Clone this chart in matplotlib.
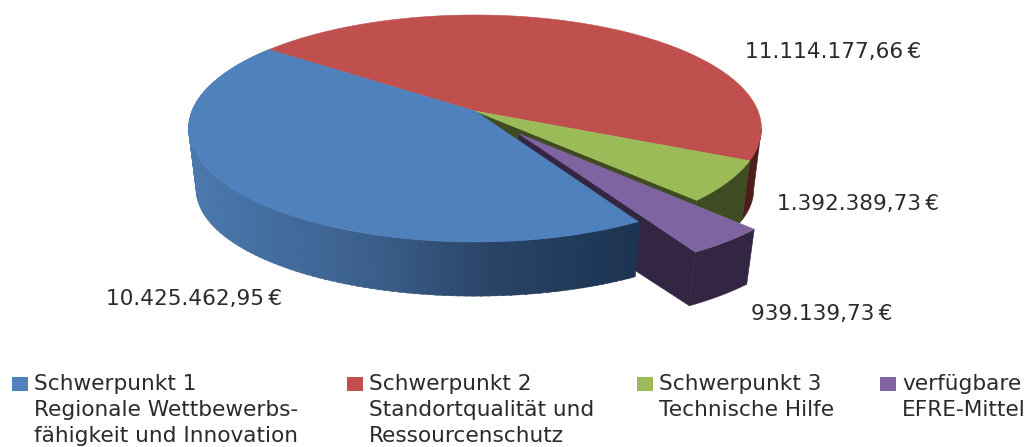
import numpy as np
import matplotlib
matplotlib.use("Agg")
import matplotlib.pyplot as plt
from matplotlib.colors import LinearSegmentedColormap
from matplotlib.patches import Polygon, Rectangle

# chart data, legend order
legend_labels = [
  "Schwerpunkt 1\nRegionale Wettbewerbs-\nfähigkeit und Innovation",
  "Schwerpunkt 2\nStandortqualität und\nRessourcenschutz",
  "Schwerpunkt 3\nTechnische Hilfe",
  "verfügbare\nEFRE-Mittel",
]
values = [10425462.95, 11114177.66, 1392389.73, 939139.73]
top_colors = ["#4f81bd", "#c0504d", "#9bbb59", "#8064a2"]
wall_colors = ["#1c3350", "#4d1e1c", "#3f4c22", "#332642"]

# where the pie sits in the picture (pixels)
start_angle = 300.0
vx, vy = 475.0, 111.0
rx, ry, persp = 283.0, 110.8, 0.154
bottom_dy = 62.0
bottom_sx, bottom_sy = 0.973, 0.94
explode = 0.25

fig = plt.figure(figsize=(10.3, 4.47), dpi=100)
ax = fig.add_axes([0, 0, 1, 1])
ax.set_xlim(0, 1030)
ax.set_ylim(447, 0)
ax.axis("off")

def project(px, py, bottom=False):
  d = 1 + persp * py
  x = rx * px / d
  y = -ry * py / d
  if bottom:
    return vx + x * bottom_sx, vy + bottom_dy + y * bottom_sy
  return vx + x, vy + y

def arc(a1, a2, off=(0, 0), bottom=False):
  t = np.radians(np.linspace(a1, a2, 120))
  return np.column_stack(project(np.cos(t) + off[0], np.sin(t) + off[1], bottom))

def top_poly(a1, a2, off, color, z):
  pts = np.vstack([[project(off[0], off[1])], arc(a1, a2, off)])
  ax.add_patch(Polygon(pts, closed=True, fc=color, ec=color, lw=0.4, zorder=z))

def radial_wall(angle, off, color, z):
  t = np.radians(angle)
  a = project(off[0], off[1])
  b = project(np.cos(t) + off[0], np.sin(t) + off[1])
  c = project(np.cos(t) + off[0], np.sin(t) + off[1], True)
  d = project(off[0], off[1], True)
  ax.add_patch(Polygon([a, b, c, d], closed=True, fc=color, ec=color, lw=0.4, zorder=z))

def side_wall(a1, a2, off, color, z):
  pts = np.vstack([arc(a1, a2, off), arc(a2, a1, off, True)])
  ax.add_patch(Polygon(pts, closed=True, fc=color, ec=color, lw=0.4, zorder=z))

# angles going clockwise from the start, like the Excel chart
spans = np.array(values) / sum(values) * 360
ends = start_angle - np.cumsum(spans)
starts = ends + spans

# blue side is shaded from left to right across the picture
blue_shade = LinearSegmentedColormap.from_list(
  "side", [(0, "#4b78ae"), (0.4, "#3b5f8c"), (0.65, "#2a4568"), (1, wall_colors[0])])
edges = np.linspace(ends[0], starts[0], 120)
edge_x = project(np.cos(np.radians(edges)), np.sin(np.radians(edges)))[0]
for i in range(len(edges) - 1):
  f = (edge_x[i] - edge_x.min()) / (edge_x.max() - edge_x.min())
  side_wall(edges[i], edges[i + 1] + 0.3, (0, 0), blue_shade(f), 5)

# red wall on the right, up to where the rim turns back
side_wall(ends[1], np.degrees(np.arcsin(-persp)), (0, 0), wall_colors[1], 2)

# green
side_wall(ends[2], starts[2], (0, 0), wall_colors[2], 3)
radial_wall(ends[2], (0, 0), wall_colors[2], 3)

# purple is pulled out, its walls go behind the blue slice
mid = np.radians((starts[3] + ends[3]) / 2)
off = (explode * np.cos(mid), explode * np.sin(mid))
radial_wall(ends[3], off, wall_colors[3], 4.5)
side_wall(ends[3], starts[3], off, wall_colors[3], 4.5)
top_poly(ends[3], starts[3], off, top_colors[3], 8)

top_poly(ends[0], starts[0], (0, 0), top_colors[0], 6)
top_poly(ends[1], starts[1], (0, 0), top_colors[1], 4)
top_poly(ends[2], starts[2], (0, 0), top_colors[2], 4)

# value labels
def euro(v):
  s = f"{v:,.2f}".replace(",", "X").replace(".", ",").replace("X", ".")
  return s + "\u2009€"

label_pos = [(106, 299), (745, 52), (777, 204), (751, 314)]
text_color = "#2b2b2b"
font_size = 15.6
for v, (x, y) in zip(values, label_pos):
  ax.text(x, y, euro(v), fontsize=font_size, color=text_color, va="center", ha="left", zorder=10)

# legend
legend_x = [12, 347, 637, 880]
for lab, c, x in zip(legend_labels, top_colors, legend_x):
  ax.add_patch(Rectangle((x, 377), 16, 14, fc=c, ec="none", zorder=10))
  for j, line in enumerate(lab.split("\n")):
    ax.text(x + 22, 384 + j * 26, line, fontsize=font_size, color=text_color, va="center", ha="left", zorder=10)

plt.savefig("out.png", dpi=100)
plt.close()
